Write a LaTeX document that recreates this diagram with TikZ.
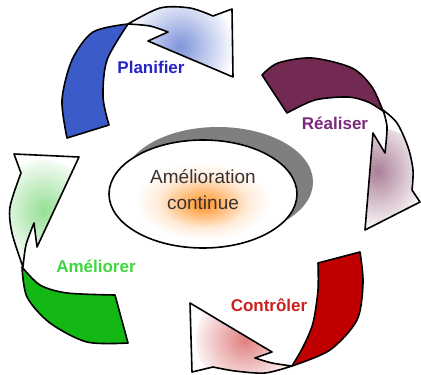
\documentclass[tikz,border=0pt]{standalone}
\usepackage{fontspec}
\setmainfont{Liberation Sans}
\usetikzlibrary{shapes.geometric}
\definecolor{plband}{HTML}{3A5BC8}
\definecolor{pltext}{HTML}{2424C8}
\definecolor{reband}{HTML}{722A52}
\definecolor{retext}{HTML}{7B2A7B}
\definecolor{coband}{HTML}{C00000}
\definecolor{cotext}{HTML}{CC2020}
\definecolor{amband}{HTML}{14B814}
\definecolor{amtext}{HTML}{3ED83E}
\definecolor{shadowgray}{HTML}{7F7F7F}
\definecolor{coretxt}{HTML}{3A3232}
\pgfdeclareradialshading{orangeglow}{\pgfpoint{0bp}{-5bp}}{color(0bp)=(orange!85); color(6bp)=(orange!50); color(12bp)=(orange!15); color(18bp)=(white); color(50bp)=(white)}
\begin{document}
\begin{tikzpicture}[x=1pt,y=-1pt,
  outline/.style={draw=black,line width=1.6pt,line join=round},
  lab/.style={font=\fontsize{17}{20}\selectfont\bfseries},
  coretextstyle/.style={font=\fontsize{19}{26}\selectfont, text=coretxt, align=center}]
\useasboundingbox (0,0) rectangle (421,375);
\fill[white] (0,0) rectangle (421,375);

% centre
\fill[shadowgray] (218,182) ellipse [x radius=95, y radius=55];
\node[ellipse, draw=black, line width=1.6pt, shade, shading=orangeglow,
      minimum width=188pt, minimum height=108pt, inner sep=0pt] (core) at (203,194) {};
\node[coretextstyle] (coretext) at (203,190) {Amélioration\\continue};

% Planifier
\draw[outline, fill=white, path picture={\shade[inner color=plband!65, outer color=white] (180,46) circle (55);}]
  plot[smooth] coordinates {(128,24) (160,8) (190,8) (213,16)} -- (232,9) -- (233,77) -- (148,41) -- (168,32)
  -- plot[smooth] coordinates {(168,32) (150,26) (128,24)} -- cycle;
\draw[outline, fill=plband]
  plot[smooth] coordinates {(128,24) (93,32) (72,60) (62,100) (67,138)} -- (109,125)
  -- plot[smooth] coordinates {(109,125) (103,97) (107,60) (128,24)} -- cycle;

% Realiser
\draw[outline, fill=white, path picture={\shade[inner color=reband!60, outer color=white] (377,180) circle (52);}]
  plot[smooth] coordinates {(383,110) (397,123) (408,147) (413,170) (412,190)} -- (420,202) -- (365,230) -- (373,133) -- (385,153)
  -- plot[smooth] coordinates {(385,153) (387,127) (383,110)} -- cycle;
\draw[outline, fill=reband] (262,75)
  -- plot[smooth] coordinates {(287,113) (315,100) (348,97) (368,102) (383,111)}
  -- plot[smooth] coordinates {(383,111) (372,87) (352,68) (312,58) (278,63) (262,75)} -- cycle;

% Controler
\draw[outline, fill=white, path picture={\shade[inner color=coband!50, outer color=white] (248,340) circle (52);}]
  plot[smooth] coordinates {(292,366) (265,373) (235,371) (213,367)} -- (192,372) -- (190,303) -- (272,352) -- (255,358)
  -- plot[smooth] coordinates {(255,358) (272,363) (292,366)} -- cycle;
\draw[outline, fill=coband] (318,263)
  -- plot[smooth] coordinates {(360,252) (363,283) (357,320) (330,350) (292,366)}
  -- plot[smooth] coordinates {(292,366) (303,347) (313,323) (318,290) (318,263)} -- cycle;

% Ameliorer
\draw[outline, fill=white, path picture={\shade[inner color=amband!45, outer color=white] (44,212) circle (52);}]
  plot[smooth] coordinates {(23,267) (12,233) (10,207) (21,173)} -- (14,154) -- (79,157) -- (37,247) -- (34,223)
  -- plot[smooth] coordinates {(34,223) (26,245) (23,267)} -- cycle;
\draw[outline, fill=amband] (115,295) -- (128,343)
  -- plot[smooth] coordinates {(128,343) (87,342) (50,323) (27,297) (22,267)}
  -- plot[smooth] coordinates {(22,267) (40,285) (67,293) (115,295)} -- cycle;

% labels
\node[lab, text=pltext] (planifier) at (151,67) {Planifier};
\node[lab, text=retext] (realiser) at (335,123) {Réaliser};
\node[lab, text=cotext] (controler) at (269,305) {Contrôler};
\node[lab, text=amtext] (ameliorer) at (96,266) {Améliorer};
\end{tikzpicture}
\end{document}
